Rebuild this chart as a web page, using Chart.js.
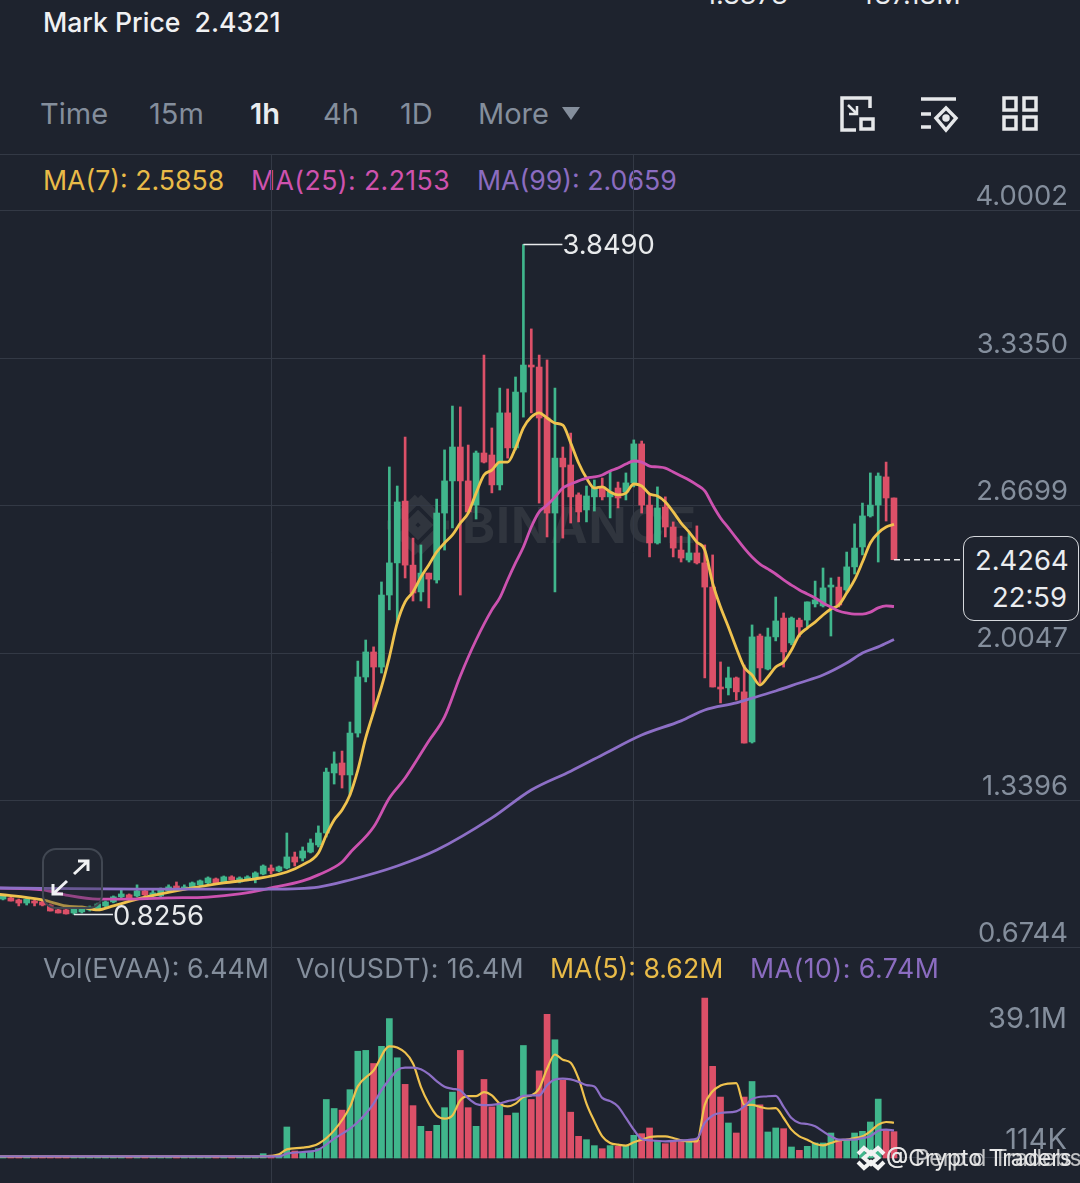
<!DOCTYPE html>
<html>
<head>
<meta charset="utf-8">
<script src="https://cdn.jsdelivr.net/npm/chart.js@4"></script>
<style>
html, body { margin: 0; padding: 0; background: #1e232e; }
#page { position: relative; width: 1080px; height: 1183px; overflow: hidden; background: #1e232e; font-family: Inter, "Noto Sans", sans-serif; }
#page div, #page span { position: absolute; white-space: nowrap; }
canvas { position: absolute; left: 0; }
.gray { color: #848e9c; }
.tab { font-size: 29px; top: 97px; line-height: 34px; color: #848e9c; }
.legend { font-size: 26.7px; line-height: 32px; }
</style>
</head>
<body>
<div id="page">
  <div style="left:0;top:154px;width:1080px;height:1px;background:#333945"></div>

  <div style="left:705px;top:-22px;font-size:27px;color:#eaecef">1.8373</div>
  <div style="left:857px;top:-22px;font-size:27px;color:#eaecef">487.18M</div>
  <div style="left:43px;top:6px;font-size:26.6px;line-height:32px;font-weight:500;color:#f0f1f3">Mark Price&nbsp; 2.4321</div>

  <div class="tab" style="left:40px">Time</div>
  <div class="tab" style="left:149px">15m</div>
  <div class="tab" style="left:250px;color:#eaecef;font-weight:600">1h</div>
  <div class="tab" style="left:323px">4h</div>
  <div class="tab" style="left:400px">1D</div>
  <div class="tab" style="left:478px">More</div>
  <svg style="position:absolute;left:562px;top:107px" width="18" height="13"><path d="M0 0H18L9 13Z" fill="#848e9c"/></svg>

  <svg style="position:absolute;left:838px;top:94px" width="205" height="40" fill="none" stroke="#e6e8ea" stroke-width="3.5">
    <path d="M32 14V4H4V36H18"/><rect x="23" y="25" width="12" height="10"/><path d="M10 11L19 20M19 12V20H11" stroke-width="2.5"/>
    <path d="M83 5H118M83 20H93M83 33H93"/><path d="M108 14L118 24L108 36L98 24Z"/><circle cx="108" cy="24" r="2" fill="#e6e8ea"/>
    <rect x="166" y="4" width="12" height="12"/><rect x="186" y="4" width="12" height="12"/><rect x="166" y="23" width="12" height="12"/><rect x="186" y="23" width="12" height="12"/>
  </svg>

  <div class="legend" style="left:43px;top:164px;color:#e9bb48">MA(7): 2.5858</div>
  <div class="legend" style="left:251px;top:164px;color:#cf52ae;letter-spacing:.4px">MA(25): 2.2153</div>
  <div class="legend" style="left:477px;top:164px;color:#8b6cc0">MA(99): 2.0659</div>

  <!-- watermark sits under the transparent canvas -->
  <svg style="position:absolute;left:383px;top:494px" width="70" height="62" fill="none" stroke="#30353e" stroke-width="9">
    <path d="M35 4L16 23M35 4L54 23M4 31L8 31M62 31L66 31M35 58L16 39M35 58L54 39M35 22L44 31L35 40L26 31Z"/>
  </svg>
  <div style="left:462px;top:495px;font-size:50px;line-height:60px;font-weight:700;letter-spacing:1px;color:#30353e">BINANCE</div>

  <canvas id="priceChart" width="1080" height="795" style="top:155px"></canvas>
  <canvas id="volumeChart" width="1080" height="233" style="top:950px"></canvas>

  <div style="left:42px;top:848px;width:57px;height:57px;border:2px solid #414752;border-radius:14px;background:rgba(40,45,55,.35)"></div>
  <svg style="position:absolute;left:50px;top:858px" width="42" height="40" fill="none" stroke="#f0f1f3" stroke-width="3">
    <path d="M24 16L38 3M28 3H38V13M17 23L3 36M3 26V36H13"/>
  </svg>

  <div style="left:963px;top:536px;width:114px;height:83px;border:1.5px solid #d5d8dc;border-radius:11px;background:#1e232e"></div>
  <div style="left:975px;top:544px;font-size:27.4px;line-height:32px;color:#eaecef">2.4264</div>
  <div style="left:992px;top:581px;font-size:27.4px;line-height:32px;color:#eaecef">22:59</div>

  <div class="legend gray" style="left:43px;top:952px">Vol(EVAA): 6.44M</div>
  <div class="legend gray" style="left:296px;top:952px;letter-spacing:.35px">Vol(USDT): 16.4M</div>
  <div class="legend" style="left:550px;top:952px;color:#e9bb48">MA(5): 8.62M</div>
  <div class="legend" style="left:750px;top:952px;color:#8b6cc0;letter-spacing:.5px">MA(10): 6.74M</div>

  <div class="legend" style="left:43px;top:1177px;color:#e9bb48">DIF: 0.0283</div>
  <div class="legend" style="left:218px;top:1177px;color:#cf52ae">DEA: 0.0270</div>
  <div class="legend" style="left:405px;top:1177px;color:#8b6cc0">MACD: 0.0553</div>
  <div class="legend gray" style="left:977px;top:1177px">0.4173</div>

  <svg style="position:absolute;left:854px;top:1144px" width="34" height="28" fill="none" stroke="#f2f2f2" stroke-width="4">
    <path d="M4 10L10 4L17 10L24 4L30 10M4 18L10 24L17 18L24 24L30 18M10 14L17 8L24 14L17 20Z"/>
  </svg>
  <div style="left:886px;top:1144px;font-size:23px;line-height:28px;color:#e8e8e8">@Crypto Traders</div>
  <div style="left:886px;top:1144px;font-size:23px;line-height:28px;color:#e8e8e8;opacity:.8">@ Perp d Tradebs</div>
</div>

<script>
// price axis
const priceTicks = [4.0002, 3.3350, 2.6699, 2.0047, 1.3396, 0.6744];
const highLabel = 3.8490;
const lowLabel = 0.8256;
const lastPrice = 2.4264;

// candles, oldest first
const opens = [.895,.900,.891,.877,.886,.882,.868,.846,.846,.832,.837,.846,.850,.864,.882,.905,.914,.909,.932,.909,.909,.932,.954,.941,.945,.959,.968,.986,.972,.995,.972,.981,.990,1.008,1.035,1.022,
  1.035,1.085,1.080,1.107,1.139,1.193,1.464,1.509,1.455,1.644,1.897,2.010,1.942,2.267,2.412,2.691,2.402,2.281,2.366,2.335,2.637,2.782,2.935,2.782,2.673,2.908,2.899,2.764,3.089,2.931,3.183,3.305,3.296,3.066,2.637,2.885,2.854,2.719,2.651,2.710,2.755,2.710,2.750,2.732,2.773,2.949,2.673,2.502,2.664,2.574,2.470,2.425,2.457,2.412,2.303,1.852,1.848,1.893,1.830,1.604,2.082,1.933,2.078,2.163,2.051,2.154,2.154,2.227,2.218,2.303,2.303,2.290,2.394,2.484,2.624,2.673,2.800,2.705];
const highs = [.914,.905,.895,.900,.891,.886,.873,.850,.859,.850,.850,.864,.877,.886,.909,.941,.918,.959,.941,.936,.945,.959,.972,.959,.972,.981,.995,.990,.999,1.000,.995,1.000,1.018,1.049,1.049,1.044,
  1.193,1.107,1.130,1.166,1.225,1.486,1.559,1.563,1.694,1.969,2.064,2.033,2.326,2.845,2.759,2.980,2.524,2.493,2.366,2.700,2.922,3.120,3.116,2.944,2.917,3.350,3.021,3.201,3.197,3.251,3.849,3.468,3.350,3.328,3.201,2.935,2.998,2.728,2.759,2.786,2.795,2.822,2.777,2.818,2.967,2.962,2.719,2.755,2.710,2.597,2.533,2.547,2.579,2.493,2.448,1.965,1.942,1.897,1.951,2.132,2.091,2.118,2.258,2.186,2.168,2.163,2.236,2.330,2.389,2.344,2.348,2.461,2.588,2.682,2.818,2.818,2.867,2.705];
const lows = [.891,.886,.864,.868,.864,.864,.841,.832,.827,.8256,.832,.841,.846,.859,.878,.900,.896,.905,.900,.905,.905,.927,.941,.936,.941,.954,.959,.968,.968,.981,.968,.977,.968,1.004,1.008,1.018,
  1.031,1.044,1.067,1.103,1.130,1.175,1.414,1.396,1.365,1.626,1.875,1.748,1.915,2.200,2.141,2.344,2.240,2.240,2.209,2.321,2.470,2.570,2.267,2.637,2.610,2.863,2.728,2.741,2.885,2.922,3.070,3.089,2.682,2.529,2.281,2.524,2.592,2.597,2.597,2.646,2.696,2.615,2.660,2.696,2.755,2.637,2.439,2.497,2.529,2.439,2.416,2.416,2.407,1.893,1.852,1.780,1.816,1.793,1.599,1.599,1.870,1.929,2.060,1.942,2.042,2.078,2.123,2.213,2.213,2.082,2.213,2.281,2.362,2.448,2.619,2.416,2.601,2.4264];
const closes = [.909,.886,.877,.895,.877,.868,.841,.832,.828,.850,.850,.859,.873,.882,.905,.918,.900,.932,.914,.923,.941,.950,.941,.950,.968,.977,.990,.968,.995,.981,.990,.995,1.013,1.044,1.022,1.040,
  1.085,1.062,1.112,1.148,1.193,1.468,1.505,1.455,1.644,1.897,2.010,1.942,2.267,2.412,2.687,2.402,2.276,2.366,2.339,2.637,2.782,2.935,2.782,2.642,2.908,2.867,2.764,3.089,2.931,3.183,3.305,3.296,3.066,2.637,2.885,2.845,2.710,2.642,2.714,2.750,2.710,2.732,2.705,2.773,2.949,2.673,2.502,2.660,2.574,2.479,2.434,2.457,2.412,2.303,1.852,1.843,1.893,1.830,1.599,2.078,1.938,2.078,2.150,2.010,2.163,2.123,2.236,2.245,2.299,2.312,2.222,2.394,2.479,2.624,2.673,2.804,2.705,2.4264];

// moving averages read at these candle positions
const ma7Pos = [-1,5,8,10,12,14,17,20,24,28,32,36,38,40,41,42,43,44,45,46,47,48,49,50,51,52,53,54,55,56,57,58,59,60,61,62,63,64,65,66,67,68,69,70,71,72,73,74,75,76,77,78,79,80,81,82,83,84,85,86,87,88,89,90,91,92,93,94,95,96,97,98,99,100,101,102,103,104,105,106,107,108,109,110,111,112,113];
const ma7Values = [.918,.891,.864,.859,.846,.864,.895,.918,.945,.968,.986,1.017,1.049,1.103,1.184,1.252,1.297,1.365,1.477,1.622,1.739,1.852,1.987,2.141,2.236,2.281,2.348,2.403,2.461,2.502,2.538,2.592,2.637,2.727,2.809,2.831,2.867,2.867,2.931,3.021,3.070,3.089,3.066,3.043,3.034,2.953,2.863,2.795,2.750,2.755,2.732,2.719,2.727,2.768,2.759,2.723,2.714,2.687,2.642,2.592,2.552,2.506,2.470,2.321,2.213,2.123,2.028,1.942,1.906,1.861,1.897,1.942,1.965,2.019,2.087,2.118,2.145,2.177,2.204,2.222,2.276,2.335,2.416,2.502,2.547,2.574,2.5858];
const ma25Pos = [-1,5,8,12,16,21,26,30,34,38,40,43,44,47,49,51,54,56,58,60,62,63,64,65,66,67,68,69,70,71,72,73,74,75,76,77,78,79,80,81,82,83,84,85,86,87,88,89,90,91,92,93,94,95,96,97,98,99,100,101,102,103,104,105,106,107,108,109,110,111,112,113];
const ma25Values = [.945,.936,.913,.895,.895,.900,.904,.918,.945,.977,1.004,1.062,1.103,1.220,1.351,1.441,1.608,1.717,1.902,2.064,2.200,2.254,2.335,2.412,2.484,2.574,2.642,2.673,2.709,2.750,2.768,2.782,2.795,2.800,2.809,2.827,2.840,2.858,2.872,2.867,2.849,2.845,2.840,2.822,2.804,2.786,2.764,2.737,2.673,2.615,2.570,2.524,2.479,2.439,2.407,2.385,2.362,2.335,2.312,2.290,2.272,2.254,2.231,2.213,2.195,2.186,2.181,2.181,2.190,2.209,2.218,2.2153];
const ma99Pos = [-1,17,34,40,44,50,55,62,67,72,76,81,86,89,93,95,98,101,104,107,109,111,113];
const ma99Values = [.945,.940,.940,.949,.981,1.044,1.116,1.261,1.387,1.472,1.545,1.635,1.699,1.748,1.780,1.802,1.834,1.870,1.906,1.960,2.005,2.033,2.0659];

// volume panel, millions
const volumes = [.3,.3,.3,.3,.3,.3,.3,.3,.3,.3,.3,.3,.3,.3,.3,.3,.3,.3,.3,.3,.3,.3,.3,.3,.3,.3,.3,.3,.3,.3,.3,.3,.3,1.06,.7,.8,
  7.58,1.71,1.22,1.47,2.28,14.3,12.1,11.7,16.7,26.1,26.3,23.1,27.3,34.1,24.5,18.0,12.8,7.74,6.52,7.99,12.3,16.1,26.3,12.3,7.74,19.2,12.5,12.9,10.4,11.0,27.5,14.3,21.3,35.1,28.9,19.0,11.2,5.30,4.48,
  3.02,2.28,3.02,2.85,2.85,5.54,5.95,7.34,4.08,3.50,4.32,4.32,4.32,4.32,39.1,22.4,14.9,8.56,6.11,14.9,18.7,13.0,6.36,7.34,7.17,2.69,1.87,2.85,3.67,3.67,6.11,4.08,4.5,6.11,6.52,8.80,14.4,6.93,6.44];
const volMa5Pos = [-1,33,35,36,38,40,42,44,45,47,49,50,52,53,54,55,56,57,58,59,60,61,62,63,64,65,66,67,68,69,70,71,72,73,74,75,76,77,78,79,80,81,82,83,84,85,86,87,88,89,90,91,92,93,94,95,96,97,98,99,100,101,102,103,104,105,106,107,108,109,110,111,112,113];
const volMa5Values = [.4,.41,.90,2.12,2.53,3.50,6.76,12.5,17.5,21.4,27.3,27.0,23.1,17.4,13.3,10.4,9.62,10.4,14.1,15.1,15.1,16.1,15.3,13.3,12.6,13.3,14.9,15.3,17.0,21.8,25.3,24.0,23.3,19.4,13.3,8.97,5.30,3.67,3.26,3.02,3.83,4.48,5.13,5.30,5.30,4.89,4.32,4.08,4.08,13.0,16.3,17.7,18.2,18.3,13.0,13.0,12.5,12.1,12.2,9.78,6.93,5.30,4.48,3.50,3.10,3.67,4.32,4.48,4.89,5.30,6.52,8.15,8.80,8.62];
const volMa10Pos = [-1,33,35,36,38,40,42,44,45,46,47,48,49,50,51,52,53,54,55,56,57,58,59,60,61,62,63,64,65,66,67,68,69,70,71,72,73,74,75,76,77,78,79,80,81,82,84,86,88,89,90,91,93,94,95,97,98,99,100,101,102,103,104,105,106,108,109,110,111,112,113];
const volMa10Values = [.4,.41,.41,1.06,1.47,2.04,4.73,7.17,8.8,10.8,13.3,16.6,19.2,21.5,22.1,22.1,21.7,20.5,18.8,17.4,16.9,16.5,14.6,13.2,12.9,13.0,13.3,13.9,14.3,15.2,15.3,15.3,17.8,19.2,19.4,19.2,18.6,17.8,17.5,14.7,13.9,12.6,9.78,6.93,4.65,4.32,4.08,4.32,4.73,8.56,10.4,11.0,11.4,12.6,14.4,15.1,15.2,12.5,9.78,8.56,8.31,7.74,6.52,5.30,4.48,4.48,4.89,5.30,6.68,6.93,6.74];
const volLabels = ['39.1M', '114K'];
const volLabelValues = [39.1, 0.114];

const GREEN = '#40b68c';
const RED = '#dc5068';
const YELLOW = '#efc24e';
const MAGENTA = '#cc52b0';
const PURPLE = '#8d6fc6';
const GRID = '#333945';
const TICK = '#848e9c';
const FONT = 'Inter, "Noto Sans", sans-serif';

const candleColors = closes.map((c, i) => (c >= opens[i] ? GREEN : RED));
const xGridTicks = [34, 80];
const xRange = { min: -0.38, max: 136.59 };

function points(pos, values) {
    return pos.map((p, i) => ({ x: p, y: values[i] }));
}

function maLine(pos, values, color, width) {
    return {
        type: 'line',
        data: points(pos, values),
        borderColor: color,
        borderWidth: width,
        pointRadius: 0,
        cubicInterpolationMode: 'monotone',
        order: 1
    };
}

function xAxis() {
    return {
        type: 'linear',
        offset: false,
        min: xRange.min,
        max: xRange.max,
        afterBuildTicks: axis => { axis.ticks = xGridTicks.map(v => ({ value: v })); },
        ticks: { display: false },
        border: { display: false },
        grid: { color: GRID, drawTicks: false, offset: false }
    };
}

// the y axis is drawn over the plot, it must not take room from it
function flatAxis(axis) {
    axis.paddingTop = 0;
    axis.paddingBottom = 0;
    axis.width = 0;
}

// high/low markers and the last price dash
const priceMarks = {
    id: 'priceMarks',
    afterDatasetsDraw(chart) {
        const { ctx, scales: { x, y } } = chart;
        const hiIdx = highs.indexOf(highLabel);
        const loIdx = lows.indexOf(lowLabel);
        ctx.save();
        ctx.strokeStyle = '#e8eaec';
        ctx.fillStyle = '#e8eaec';
        ctx.lineWidth = 1.5;
        ctx.font = '27.4px ' + FONT;
        ctx.textBaseline = 'middle';
        ctx.beginPath();
        ctx.moveTo(x.getPixelForValue(hiIdx), y.getPixelForValue(highLabel));
        ctx.lineTo(x.getPixelForValue(hiIdx) + 39, y.getPixelForValue(highLabel));
        ctx.moveTo(x.getPixelForValue(loIdx), y.getPixelForValue(lowLabel));
        ctx.lineTo(x.getPixelForValue(loIdx) + 39, y.getPixelForValue(lowLabel));
        ctx.stroke();
        ctx.fillText(highLabel.toFixed(4), x.getPixelForValue(hiIdx) + 39, y.getPixelForValue(highLabel) + 1);
        ctx.fillText(lowLabel.toFixed(4), x.getPixelForValue(loIdx) + 39, y.getPixelForValue(lowLabel) + 2);
        ctx.setLineDash([6, 4]);
        ctx.beginPath();
        ctx.moveTo(x.getPixelForValue(closes.length - 1), y.getPixelForValue(lastPrice));
        ctx.lineTo(963, y.getPixelForValue(lastPrice));
        ctx.stroke();
        ctx.restore();
    }
};

// volume labels do not sit at the same offset from their lines, so the axis cannot place them
const volumeMarks = {
    id: 'volumeMarks',
    afterDatasetsDraw(chart) {
        const { ctx, scales: { y } } = chart;
        const shifts = [21, -17];
        ctx.save();
        ctx.fillStyle = TICK;
        ctx.font = '29px ' + FONT;
        ctx.textAlign = 'right';
        ctx.textBaseline = 'middle';
        volLabels.forEach((t, i) => ctx.fillText(t, 1067, y.getPixelForValue(volLabelValues[i]) + shifts[i]));
        ctx.restore();
    }
};

function initPriceChart() {
    new Chart(document.getElementById('priceChart'), {
        type: 'bar',
        plugins: [priceMarks],
        data: {
            datasets: [
                maLine(ma99Pos, ma99Values, PURPLE, 2.8),
                maLine(ma25Pos, ma25Values, MAGENTA, 2.8),
                maLine(ma7Pos, ma7Values, YELLOW, 2.8),
                {
                    data: opens.map((o, i) => ({ x: i, y: [o, closes[i]] })),
                    backgroundColor: candleColors,
                    barThickness: 6,
                    grouped: false,
                    order: 2
                },
                {
                    data: highs.map((h, i) => ({ x: i, y: [lows[i], h] })),
                    backgroundColor: candleColors,
                    barThickness: 2,
                    grouped: false,
                    order: 3
                }
            ]
        },
        options: {
            responsive: false,
            animation: false,
            devicePixelRatio: 1,
            layout: { padding: 0 },
            plugins: { legend: { display: false }, tooltip: { enabled: false } },
            scales: {
                x: xAxis(),
                y: {
                    position: 'right',
                    min: 0.665,
                    max: 4.2529,
                    afterBuildTicks: axis => { axis.ticks = priceTicks.map(v => ({ value: v })); },
                    afterFit: flatAxis,
                    ticks: {
                        mirror: true,
                        padding: -12,
                        labelOffset: -14,
                        color: TICK,
                        font: { family: FONT, size: 27.4 },
                        callback: v => v.toFixed(4)
                    },
                    border: { display: false },
                    grid: { color: GRID, drawTicks: false }
                }
            }
        }
    });
}

function initVolumeChart() {
    new Chart(document.getElementById('volumeChart'), {
        type: 'bar',
        plugins: [volumeMarks],
        data: {
            datasets: [
                maLine(volMa10Pos, volMa10Values, PURPLE, 2.2),
                maLine(volMa5Pos, volMa5Values, YELLOW, 2.2),
                {
                    data: volumes.map((v, i) => ({ x: i, y: v })),
                    backgroundColor: candleColors,
                    barThickness: 6,
                    grouped: false,
                    order: 2
                }
            ]
        },
        options: {
            responsive: false,
            animation: false,
            devicePixelRatio: 1,
            layout: { padding: 0 },
            plugins: { legend: { display: false }, tooltip: { enabled: false } },
            scales: {
                x: xAxis(),
                y: {
                    position: 'right',
                    min: -6.11,
                    max: 50.84,
                    afterBuildTicks: axis => { axis.ticks = [{ value: volLabelValues[1] }]; },
                    afterFit: flatAxis,
                    ticks: { display: false },
                    border: { display: false },
                    grid: { color: GRID, drawTicks: false }
                }
            }
        }
    });
}

initPriceChart();
initVolumeChart();
</script>
</body>
</html>
